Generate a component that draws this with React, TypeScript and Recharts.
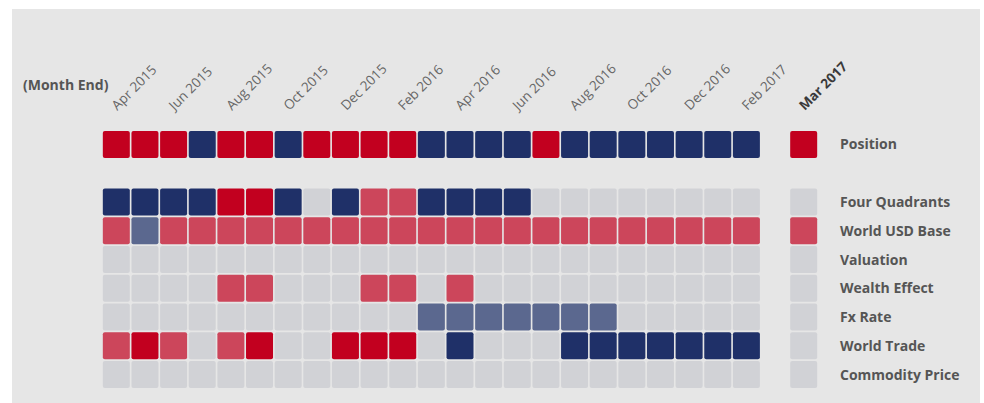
import { ScatterChart, Scatter, XAxis, YAxis } from "recharts";

// Month-end columns (every cell is one month), plus the latest month shown apart
const months = [
  "Apr 2015", "May 2015", "Jun 2015", "Jul 2015", "Aug 2015", "Sep 2015",
  "Oct 2015", "Nov 2015", "Dec 2015", "Jan 2016", "Feb 2016", "Mar 2016",
  "Apr 2016", "May 2016", "Jun 2016", "Jul 2016", "Aug 2016", "Sep 2016",
  "Oct 2016", "Nov 2016", "Dec 2016", "Jan 2017", "Feb 2017",
];
const latestMonth = "Mar 2017";

// R = strong red, r = light red, N = strong navy, n = light navy, - = neutral
const position = ["R","R","R","N","R","R","N","R","R","R","R","N","N","N","N","R","N","N","N","N","N","N","N"];
const fourQuadrants = ["N","N","N","N","R","R","N","-","N","r","r","N","N","N","N","-","-","-","-","-","-","-","-"];
const worldUsdBase = ["r","n","r","r","r","r","r","r","r","r","r","r","r","r","r","r","r","r","r","r","r","r","r"];
const valuation = ["-","-","-","-","-","-","-","-","-","-","-","-","-","-","-","-","-","-","-","-","-","-","-"];
const wealthEffect = ["-","-","-","-","r","r","-","-","-","r","r","-","r","-","-","-","-","-","-","-","-","-","-"];
const fxRate = ["-","-","-","-","-","-","-","-","-","-","-","n","n","n","n","n","n","n","-","-","-","-","-"];
const worldTrade = ["r","R","r","-","r","R","-","-","R","R","R","-","N","-","-","-","N","N","N","N","N","N","N"];
const commodityPrice = ["-","-","-","-","-","-","-","-","-","-","-","-","-","-","-","-","-","-","-","-","-","-","-"];

// latest month, one entry per row (Position .. Commodity Price)
const latest = ["R", "-", "r", "-", "-", "-", "-", "-"];

const rowLabels = [
  "Position", "Four Quadrants", "World USD Base", "Valuation",
  "Wealth Effect", "Fx Rate", "World Trade", "Commodity Price",
];
const rows = [position, fourQuadrants, worldUsdBase, valuation, wealthEffect, fxRate, worldTrade, commodityPrice];

const COLORS: Record<string, string> = {
  R: "#c2001f",
  r: "#cc465b",
  N: "#1f3068",
  n: "#5b688f",
  "-": "#d1d2d6",
};

const FONT = "'Open Sans', 'Noto Sans', sans-serif";
const CELL = 27;

// row 1 is left empty as a spacer below Position; column 23 is the spacer before the latest month
const rowSlot = (i: number) => (i === 0 ? 0 : i + 1);
const latestCol = months.length + 1;

const cells = rows.flatMap((codes, i) => [
  ...codes.map((c, j) => ({ x: j, y: rowSlot(i), fill: COLORS[c] })),
  { x: latestCol, y: rowSlot(i), fill: COLORS[latest[i]] },
]);

const xTicks = [...months.map((_, j) => j).filter((j) => j % 2 === 0), latestCol];
const yTicks = rowLabels.map((_, i) => rowSlot(i));

function CellShape(props: any) {
  const { cx, cy, payload } = props;
  return (
    <rect x={cx - CELL / 2} y={cy - CELL / 2} width={CELL} height={CELL} rx={2} ry={2} fill={payload.fill} />
  );
}

function MonthTick(props: any) {
  const { x, y, payload } = props;
  const isLatest = payload.value === latestCol;
  const label = isLatest ? latestMonth : months[payload.value];
  const tx = x + 1;
  const ty = y - 19;
  return (
    <text
      x={tx}
      y={ty}
      transform={`rotate(-45 ${tx} ${ty})`}
      textAnchor="start"
      fontFamily={FONT}
      fontSize={13.5}
      fontWeight={isLatest ? 700 : 400}
      fill={isLatest ? "#3a3a3a" : "#666666"}
    >
      {label}
    </text>
  );
}

function RowTick(props: any) {
  const { x, y, payload } = props;
  const idx = yTicks.indexOf(payload.value);
  return (
    <text x={x + 22} y={y} dy="0.36em" textAnchor="start" fontFamily={FONT} fontSize={14} fontWeight={700} fill="#555555">
      {rowLabels[idx]}
    </text>
  );
}

export default function App() {
  return (
    <div style={{ position: "absolute", left: 0, top: 0, width: 984, height: 403, background: "#ffffff" }}>
      <div style={{ position: "absolute", left: 12, top: 9, width: 968, height: 394, background: "#e6e6e6" }}>
        <div
          style={{
            position: "absolute", left: 11, top: 66, fontFamily: FONT, fontSize: 14,
            fontWeight: 700, color: "#555555",
          }}
        >
          (Month End)
        </div>
        <ScatterChart width={968} height={394} margin={{ top: 0, right: 0, bottom: 14, left: 90 }}>
          <XAxis
            type="number"
            dataKey="x"
            orientation="top"
            domain={[-0.5, latestCol + 0.5]}
            ticks={xTicks}
            interval={0}
            height={121}
            axisLine={false}
            tickLine={false}
            tickSize={0}
            tickMargin={0}
            tick={<MonthTick />}
          />
          <YAxis
            type="number"
            dataKey="y"
            orientation="right"
            reversed
            domain={[-0.5, 8.5]}
            ticks={yTicks}
            interval={0}
            width={162}
            axisLine={false}
            tickLine={false}
            tickSize={0}
            tickMargin={0}
            tick={<RowTick />}
          />
          <Scatter data={cells} shape={<CellShape />} isAnimationActive={false} />
        </ScatterChart>
      </div>
    </div>
  );
}
